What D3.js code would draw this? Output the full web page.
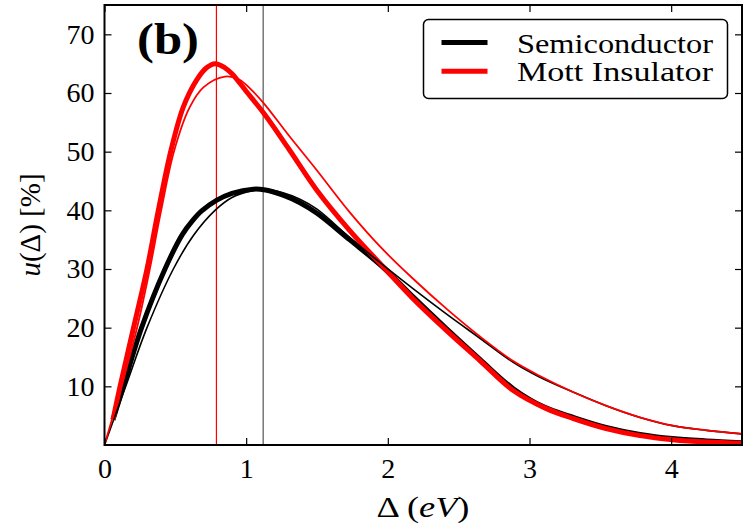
<!DOCTYPE html>
<html>
<head>
<meta charset="utf-8">
<script src="https://cdn.jsdelivr.net/npm/d3@7"></script>
<style>
  body { margin: 0; background: #fff; }
  svg { display: block; }
</style>
</head>
<body>
<svg id="chart"></svg>
<script>
const width = 750;
const height = 525;
const serif = "'Liberation Serif', 'DejaVu Serif', 'Times New Roman', serif";

// Semiconductor, measured (thick) and fit (thin)
const semiX = [0.06, 0.133, 0.262, 0.427, 0.55, 0.62, 0.686, 0.79, 0.9, 1.05, 1.126, 1.26, 1.38, 1.5, 1.73, 1.97, 2.18, 2.415, 2.65, 2.885, 3.1, 3.31, 3.54, 3.78, 4.01, 4.25, 4.5];
const semiY = [4.3, 10, 20, 30, 35.9, 38.2, 39.9, 41.7, 42.9, 43.6, 43.5, 42.6, 41.3, 39.5, 35.0, 30.2, 25.2, 19.8, 14.6, 9.6, 6.5, 4.7, 3.0, 1.8, 1.1, 0.7, 0.4];
const semiFitX = [0, 0.15, 0.3, 0.486, 0.63, 0.78, 0.9, 1.05, 1.126, 1.26, 1.38, 1.5, 1.73, 1.97, 2.18, 2.415, 2.65, 2.885, 3.07, 3.31, 3.54, 3.78, 4.01, 4.25, 4.5];
const semiFitY = [0, 10, 20, 30, 35.8, 40, 42.2, 43.4, 43.6, 43.0, 41.9, 40.2, 35.4, 30.6, 26.6, 22.3, 18.2, 14.1, 11.6, 9.0, 6.7, 4.7, 3.3, 2.5, 1.9];

// Mott insulator, measured (thick) and fit (thin)
const mottX = [0.06, 0.11, 0.205, 0.3, 0.38, 0.47, 0.556, 0.65, 0.72, 0.78, 0.85, 0.9, 1.0, 1.126, 1.3, 1.5, 1.73, 1.97, 2.18, 2.415, 2.65, 2.885, 3.12, 3.31, 3.54, 3.78, 4.01, 4.25, 4.5];
const mottY = [4.3, 10, 20, 30, 40, 50.3, 57.6, 62.2, 64.3, 65.0, 64.3, 63.3, 60.3, 56.5, 50.5, 43.4, 36.6, 30.3, 24.9, 19.5, 14.4, 9.3, 6.2, 4.5, 2.8, 1.6, 0.9, 0.5, 0.3];
const mottFitX = [0, 0.12, 0.23, 0.32, 0.4, 0.49, 0.6, 0.7, 0.85, 0.95, 1.03, 1.126, 1.3, 1.5, 1.73, 1.97, 2.18, 2.415, 2.65, 2.885, 3.07, 3.31, 3.54, 3.78, 4.01, 4.25, 4.5];
const mottFitY = [0, 10, 20, 30, 40, 50, 57.5, 61, 62.8, 62.3, 60.7, 58.2, 52.8, 46.8, 39.7, 33.2, 28.3, 23.2, 18.5, 14.3, 11.8, 9.0, 6.7, 4.7, 3.3, 2.5, 1.9];

// peak positions (vertical markers)
const peakMott = 0.79;
const peakSemi = 1.12;

const xTicks = [0, 1, 2, 3, 4];
const yTicks = [10, 20, 30, 40, 50, 60, 70];
const legendNames = ['Semiconductor', 'Mott Insulator'];
const legendColors = ['#000000', '#ff0000'];

const margin = { top: 5, right: 8, bottom: 80, left: 104.5 };
const plotW = width - margin.left - margin.right;
const plotH = height - margin.top - margin.bottom;

const svg = d3.select('#chart')
    .attr('width', width)
    .attr('height', height)
    .style('font-family', serif);

const g = svg.append('g')
    .attr('transform', `translate(${margin.left},${margin.top})`);

const x = d3.scaleLinear().domain([0, 4.5]).range([0, plotW]);
const y = d3.scaleLinear().domain([0, 75]).range([plotH, 0]);

g.append('clipPath').attr('id', 'clip')
    .append('rect').attr('width', plotW).attr('height', plotH);

const plot = g.append('g').attr('clip-path', 'url(#clip)');

// vertical peak lines
plot.append('line')
    .attr('x1', x(peakMott)).attr('x2', x(peakMott))
    .attr('y1', 0).attr('y2', plotH)
    .attr('stroke', '#ff0000').attr('stroke-width', 1.2);
plot.append('line')
    .attr('x1', x(peakSemi)).attr('x2', x(peakSemi))
    .attr('y1', 0).attr('y2', plotH)
    .attr('stroke', '#555').attr('stroke-width', 1.2);

const line = d3.line()
    .x(d => x(d[0]))
    .y(d => y(d[1]))
    .curve(d3.curveCatmullRom.alpha(0.5));

const zip = (a, b) => a.map((v, i) => [v, b[i]]);

const series = [
    { pts: zip(semiX, semiY), color: '#000', w: 5 },
    { pts: zip(mottX, mottY), color: '#ff0000', w: 5 },
    { pts: zip(semiFitX, semiFitY), color: '#000', w: 1.6 },
    { pts: zip(mottFitX, mottFitY), color: '#ff0000', w: 1.8 }
];

plot.selectAll('.curve')
    .data(series)
    .enter()
    .append('path')
    .attr('class', 'curve')
    .attr('d', d => line(d.pts))
    .attr('fill', 'none')
    .attr('stroke', d => d.color)
    .attr('stroke-width', d => d.w)
    .attr('stroke-linejoin', 'round');

// axes, ticks pointing inward on all four sides
const fs = 28;
const styleAxis = sel => {
    sel.attr('font-family', null).attr('font-size', null);
    sel.select('.domain').remove();
    sel.selectAll('.tick line').attr('stroke', '#000').attr('stroke-width', 1.2);
    sel.selectAll('.tick text')
        .style('font-family', serif)
        .style('font-size', fs + 'px')
        .attr('fill', '#000');
};

g.append('g')
    .attr('transform', `translate(0,${plotH})`)
    .call(d3.axisBottom(x).tickValues(xTicks).tickSize(-7).tickPadding(13).tickFormat(d3.format('d')))
    .call(styleAxis);
g.append('g')
    .call(d3.axisTop(x).tickValues(xTicks).tickSize(-7).tickFormat(''))
    .call(styleAxis);
g.append('g')
    .call(d3.axisLeft(y).tickValues(yTicks).tickSize(-7).tickPadding(10).tickFormat(d3.format('d')))
    .call(styleAxis);
g.append('g')
    .attr('transform', `translate(${plotW},0)`)
    .call(d3.axisRight(y).tickValues(yTicks).tickSize(-7).tickFormat(''))
    .call(styleAxis);

g.append('rect')
    .attr('width', plotW).attr('height', plotH)
    .attr('fill', 'none').attr('stroke', '#000').attr('stroke-width', 2);

// panel label
svg.append('text')
    .attr('x', 137).attr('y', 54)
    .attr('textLength', 62).attr('lengthAdjust', 'spacingAndGlyphs')
    .style('font-family', serif)
    .style('font-size', '44px').style('font-weight', 'bold')
    .text('(b)');

// axis labels
const xl = svg.append('text')
    .attr('x', 423).attr('y', 517)
    .attr('text-anchor', 'middle')
    .attr('textLength', 93).attr('lengthAdjust', 'spacingAndGlyphs')
    .style('font-family', serif)
    .style('font-size', '29px');
xl.append('tspan').text('Δ (');
xl.append('tspan').style('font-style', 'italic').text('eV');
xl.append('tspan').text(')');

const yl = svg.append('text')
    .attr('transform', 'translate(40,225) rotate(-90)')
    .attr('text-anchor', 'middle')
    .style('font-family', serif)
    .style('font-size', '29px');
yl.append('tspan').style('font-style', 'italic').text('u');
yl.append('tspan').text('(Δ) [%]');

// legend
const lg = svg.append('g');
lg.append('rect')
    .attr('x', 423.5).attr('y', 19.5)
    .attr('width', 304).attr('height', 79)
    .attr('rx', 5).attr('ry', 5)
    .attr('fill', '#fff').attr('stroke', '#000').attr('stroke-width', 1.5);

legendNames.forEach((name, i) => {
    const ly = 42.5 + i * 28.7;
    lg.append('line')
        .attr('x1', 441.5).attr('x2', 487.5)
        .attr('y1', ly).attr('y2', ly)
        .attr('stroke', legendColors[i]).attr('stroke-width', 5);
    lg.append('text')
        .attr('x', 517).attr('y', ly + 10)
        .attr('textLength', 196).attr('lengthAdjust', 'spacingAndGlyphs')
        .style('font-family', serif)
        .style('font-size', '27px')
        .text(name);
});
</script>
</body>
</html>
